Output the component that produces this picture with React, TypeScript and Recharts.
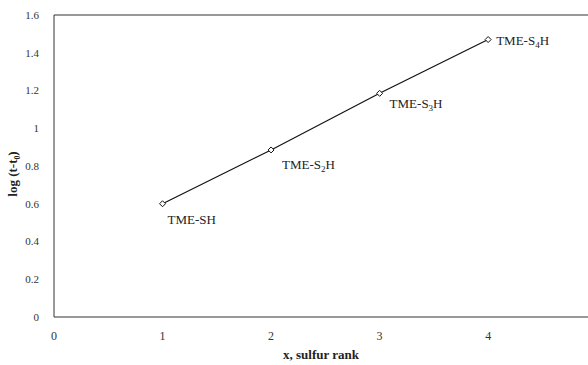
import React from 'react';
import { LineChart, Line, XAxis, YAxis, ReferenceLine, LabelList } from 'recharts';

const sulfurRank = [1, 2, 3, 4];
const logValues = [0.6, 0.885, 1.185, 1.47];
const compoundSubs = ['', '2', '3', '4'];
const xTicks = [0, 1, 2, 3, 4];
const yTicks = [0, 0.2, 0.4, 0.6, 0.8, 1, 1.2, 1.4, 1.6];

const data = sulfurRank.map((x, i) => ({ x, y: logValues[i], sub: compoundSubs[i] }));

// where each compound label sits relative to its point
const labelOffsets = [
    { dx: 5, dy: 20 },
    { dx: 11, dy: 19 },
    { dx: 10, dy: 15 },
    { dx: 8, dy: 5 },
];

const serif = '"Liberation Serif", "DejaVu Serif", serif';

const Diamond = (props: any) => {
    const { cx, cy } = props;
    if (cx == null || cy == null) return null;
    const r = 3;
    return (
        <polygon
            points={`${cx},${cy - r} ${cx + r},${cy} ${cx},${cy + r} ${cx - r},${cy}`}
            fill="#fff"
            stroke="#111"
            strokeWidth={1}
        />
    );
};

const CompoundLabel = (props: any) => {
    const { x, y, index } = props;
    const sub = compoundSubs[index];
    const off = labelOffsets[index];
    return (
        <text x={x + off.dx} y={y + off.dy} fontFamily={serif} fontSize={13} fill="#222">
            TME-S
            {sub ? <tspan fontSize={9} dy={3}>{sub}</tspan> : null}
            <tspan dy={sub ? -3 : 0}>H</tspan>
        </text>
    );
};

export default function App() {
    return (
        <div style={{ position: 'absolute', left: 0, top: 0, width: 588, height: 365, background: '#fff' }}>
            <LineChart width={588} height={365} data={data} margin={{ top: 15, right: 0, left: 0, bottom: 0 }}>
                <XAxis
                    type="number"
                    dataKey="x"
                    domain={[0, 4.92]}
                    ticks={xTicks}
                    allowDataOverflow
                    height={48}
                    tickLine={false}
                    stroke="#333"
                    tick={{ fontFamily: serif, fontSize: 12, fill: '#333' }}
                    tickMargin={8}
                    label={{
                        value: 'x, sulfur rank',
                        position: 'insideBottom',
                        offset: 6,
                        style: { fontFamily: serif, fontSize: 13, fontWeight: 'bold', fill: '#222' },
                    }}
                />
                <YAxis
                    type="number"
                    domain={[0, 1.6]}
                    ticks={yTicks}
                    width={54}
                    tickLine={false}
                    stroke="#333"
                    tick={{ fontFamily: serif, fontSize: 11, fill: '#333' }}
                    tickMargin={9}
                    label={{
                        value: 'log (t-t\u2080)',
                        angle: -90,
                        position: 'insideLeft',
                        offset: 12,
                        dy: 8,
                        style: { fontFamily: serif, fontSize: 13, fontWeight: 'bold', fill: '#222', textAnchor: 'middle' },
                    }}
                />
                <ReferenceLine y={1.6} stroke="#333" strokeWidth={1} />
                <Line
                    type="linear"
                    dataKey="y"
                    stroke="#111"
                    strokeWidth={1.2}
                    dot={<Diamond />}
                    activeDot={false}
                    isAnimationActive={false}
                >
                    <LabelList dataKey="y" content={<CompoundLabel />} />
                </Line>
            </LineChart>
        </div>
    );
}
